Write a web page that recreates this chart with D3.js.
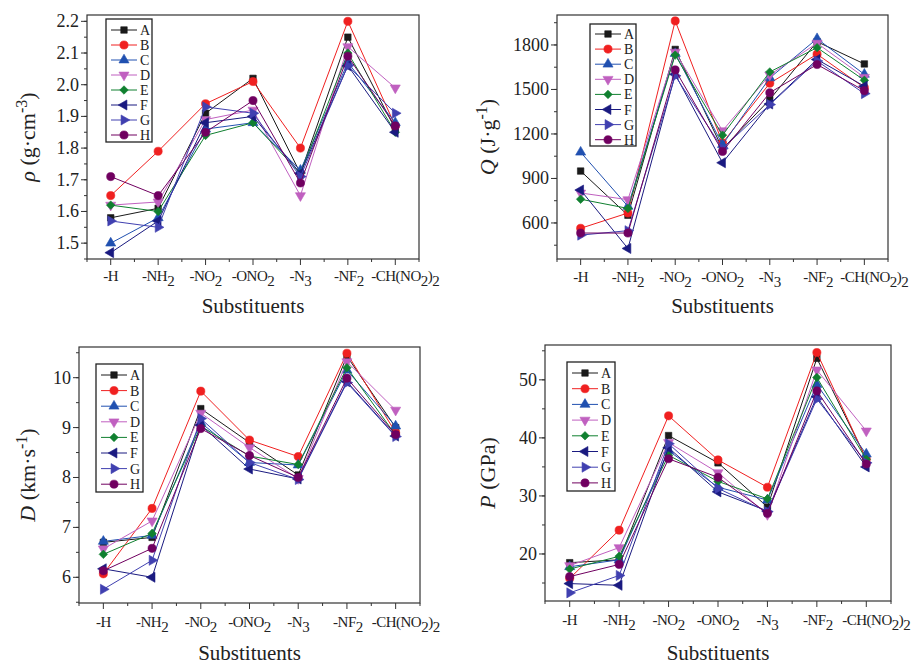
<!DOCTYPE html>
<html>
<head>
<meta charset="utf-8">
<script src="https://cdn.jsdelivr.net/npm/d3@7"></script>
<style>
  body { margin: 0; background: #fff; }
  text { font-family: "Liberation Serif", "DejaVu Serif", serif; fill: #222; }
</style>
</head>
<body>
<div id="chart"></div>
<script>
// categories on the x axis (digits are drawn as subscripts)
const categories = ["-H", "-NH2", "-NO2", "-ONO2", "-N3", "-NF2", "-CH(NO2)2"];
const seriesNames = ["A", "B", "C", "D", "E", "F", "G", "H"];
const seriesColors = ["#1a1a1a", "#f02020", "#2050b0", "#c060c0", "#108030", "#1a1a80", "#4040b0", "#700060"];
const seriesShapes = ["square", "circle", "up", "down", "diamond", "left", "right", "circle"];

// density, g cm-3 (one row per series A..H)
const rhoValues = [
    [1.58, 1.61, 1.91, 2.02, 1.72, 2.15, 1.86],
    [1.65, 1.79, 1.94, 2.01, 1.80, 2.20, 1.87],
    [1.50, 1.58, 1.86, 1.88, 1.73, 2.07, 1.88],
    [1.62, 1.63, 1.89, 1.92, 1.65, 2.12, 1.99],
    [1.62, 1.60, 1.84, 1.88, 1.72, 2.10, 1.85],
    [1.47, 1.57, 1.88, 1.90, 1.72, 2.06, 1.85],
    [1.57, 1.55, 1.93, 1.91, 1.71, 2.06, 1.91],
    [1.71, 1.65, 1.85, 1.95, 1.69, 2.09, 1.87]
];
// heat of detonation, J g-1
const qValues = [
    [950, 652, 1770, 1100, 1432, 1822, 1672],
    [564, 667, 1962, 1140, 1542, 1738, 1512],
    [1077, 712, 1742, 1128, 1578, 1842, 1602],
    [802, 757, 1752, 1222, 1598, 1812, 1582],
    [760, 698, 1732, 1192, 1618, 1782, 1562],
    [822, 428, 1602, 1006, 1402, 1702, 1522],
    [518, 548, 1592, 1102, 1398, 1692, 1472],
    [532, 532, 1632, 1082, 1478, 1668, 1492]
];
// detonation velocity, km s-1
const dValues = [
    [6.70, 6.80, 9.38, 8.70, 8.05, 10.43, 9.00],
    [6.07, 7.38, 9.73, 8.75, 8.42, 10.49, 8.90],
    [6.72, 6.84, 9.10, 8.30, 8.25, 10.15, 9.03],
    [6.57, 7.13, 9.29, 8.60, 7.98, 10.32, 9.35],
    [6.46, 6.88, 9.03, 8.43, 8.26, 10.20, 8.85],
    [6.17, 6.00, 9.05, 8.17, 7.97, 9.92, 8.83],
    [5.76, 6.34, 9.18, 8.30, 7.96, 9.90, 8.82],
    [6.13, 6.58, 8.98, 8.44, 8.00, 9.99, 8.86]
];
// detonation pressure, GPa
const pValues = [
    [18.5, 19.0, 40.4, 35.7, 28.1, 53.7, 36.4],
    [15.8, 24.1, 43.8, 36.2, 31.5, 54.7, 36.3],
    [17.8, 19.0, 37.8, 31.5, 29.3, 49.2, 37.2],
    [18.0, 21.1, 39.2, 34.0, 26.8, 51.7, 41.2],
    [17.4, 19.6, 37.0, 32.5, 29.5, 50.4, 36.3],
    [14.9, 14.6, 38.3, 30.7, 27.4, 47.1, 35.0],
    [13.3, 16.3, 39.0, 31.3, 27.3, 46.7, 35.7],
    [16.1, 18.2, 36.4, 33.2, 27.0, 48.1, 35.5]
];

// tick labels
const rhoTicks = [1.5, 1.6, 1.7, 1.8, 1.9, 2.0, 2.1, 2.2];
const qTicks = [600, 900, 1200, 1500, 1800];
const dTicks = [6, 7, 8, 9, 10];
const pTicks = [20, 30, 40, 50];

const panels = [
    { data: rhoValues, ticks: rhoTicks, step: 0.1, fmt: ".1f", domain: [1.45, 2.22],
      x0: 87, y0: 15, x1: 419, y1: 259, labX: 27,
      ylab: [["ρ", "i"], [" (g·cm", ""], ["-3", "sup"], [")", ""]],
      legend: { x: 106, y: 19, w: 46, h: 123, first: 11, row: 15 }, xlabY: 281, titleY: 313 },
    { data: qValues, ticks: qTicks, step: 300, fmt: "d", domain: [357, 2002],
      x0: 557, y0: 15, x1: 888, y1: 259, labX: 487,
      ylab: [["Q", "i"], [" (J·g", ""], ["-1", "sup"], [")", ""]],
      legend: { x: 590, y: 24, w: 46, h: 122, first: 10, row: 15.1 }, xlabY: 282, titleY: 313 },
    { data: dValues, ticks: dTicks, step: 1, fmt: "d", domain: [5.485, 10.615],
      x0: 79, y0: 347, x1: 420, y1: 603, labX: 27,
      ylab: [["D", "i"], [" (km·s", ""], ["-1", "sup"], [")", ""]],
      legend: { x: 96, y: 364, w: 47, h: 128, first: 11, row: 15.6 }, xlabY: 627, titleY: 660 },
    { data: pValues, ticks: pTicks, step: 10, fmt: "d", domain: [11.9, 56],
      x0: 545, y0: 345, x1: 891, y1: 601, labX: 487,
      ylab: [["P", "i"], [" (GPa)", ""]],
      legend: { x: 567, y: 362, w: 48, h: 129, first: 11, row: 15.7 }, xlabY: 625, titleY: 660 }
];

const svg = d3.select("#chart")
    .append("svg")
    .attr("width", 915)
    .attr("height", 664);

function symbolPath(shape) {
    // returns [d3 symbol type, size, rotation]
    if (shape == "square") return [d3.symbolSquare, 42, 0];
    if (shape == "circle") return [d3.symbolCircle, 52, 0];
    if (shape == "diamond") return [d3.symbolSquare, 36, 45];
    let rot = { up: 0, down: 180, left: -90, right: 90 }[shape];
    return [d3.symbolTriangle, 44, rot];
}

function drawMarker(g, shape, color, x, y) {
    let [type, size, rot] = symbolPath(shape);
    g.append("path")
        .attr("d", d3.symbol().type(type).size(size)())
        .attr("transform", `translate(${x},${y}) rotate(${rot})`)
        .attr("fill", color)
        .attr("stroke", color)
        .attr("stroke-width", 0.6);
}

// writes "-NO2" style text, digits as subscripts
function subText(sel, label) {
    let parts = label.match(/[0-9]+|[^0-9]+/g);
    let shifted = false;
    parts.forEach(function(p) {
        let isSub = /[0-9]/.test(p);
        let t = sel.append("tspan").text(p);
        if (isSub && !shifted) { t.attr("dy", 5); shifted = true; }
        else if (!isSub && shifted) { t.attr("dy", -5); shifted = false; }
    });
}

panels.forEach(function(p) {
    let g = svg.append("g");

    let x = d3.scaleLinear().domain([-0.5, 6.5]).range([p.x0, p.x1]);
    let y = d3.scaleLinear().domain(p.domain).range([p.y1, p.y0]);

    // frame
    g.append("rect")
        .attr("x", p.x0).attr("y", p.y0)
        .attr("width", p.x1 - p.x0).attr("height", p.y1 - p.y0)
        .attr("fill", "none").attr("stroke", "#333").attr("stroke-width", 1.2);

    // y axis ticks
    let fmt = d3.format(p.fmt);
    let minor = d3.range(p.ticks[0] - p.step / 2, p.domain[1], p.step / 2)
        .filter(v => v >= p.domain[0] && v <= p.domain[1]);
    g.selectAll(null).data(minor).enter().append("line")
        .attr("x1", p.x0).attr("x2", p.x0 - 3)
        .attr("y1", d => y(d)).attr("y2", d => y(d))
        .attr("stroke", "#333");
    g.selectAll(null).data(p.ticks).enter().append("line")
        .attr("x1", p.x0).attr("x2", p.x0 - 6)
        .attr("y1", d => y(d)).attr("y2", d => y(d))
        .attr("stroke", "#333");
    g.selectAll(null).data(p.ticks).enter().append("text")
        .attr("x", p.x0 - 8)
        .attr("y", d => y(d) + 6)
        .style("text-anchor", "end")
        .style("font-size", "18px")
        .text(d => fmt(d));

    // x axis ticks
    let xMinor = d3.range(-0.5, 7, 1);
    g.selectAll(null).data(xMinor).enter().append("line")
        .attr("x1", d => x(d)).attr("x2", d => x(d))
        .attr("y1", p.y1).attr("y2", p.y1 + 3)
        .attr("stroke", "#333");
    g.selectAll(null).data(categories).enter().append("line")
        .attr("x1", (d, i) => x(i)).attr("x2", (d, i) => x(i))
        .attr("y1", p.y1).attr("y2", p.y1 + 6)
        .attr("stroke", "#333");
    categories.forEach(function(c, i) {
        // the long last label sits a little right of its tick, as in the original
        let t = g.append("text")
            .attr("x", x(i))
            .attr("dx", i == categories.length - 1 ? 10 : (i == categories.length - 2 ? 1 : 0))
            .attr("y", p.xlabY)
            .style("text-anchor", "middle")
            .style("font-size", "15px")
            .style("letter-spacing", "-0.5px");
        subText(t, c);
    });

    // axis titles
    g.append("text")
        .attr("x", (p.x0 + p.x1) / 2)
        .attr("y", p.titleY)
        .style("text-anchor", "middle")
        .style("font-size", "21px")
        .text("Substituents");

    let yl = g.append("text")
        .attr("transform", `translate(${p.labX},${(p.y0 + p.y1) / 2}) rotate(-90)`)
        .attr("dy", "0.35em")
        .style("text-anchor", "middle")
        .style("font-size", "22px");
    let up = false;
    p.ylab.forEach(function(s) {
        let t = yl.append("tspan").text(s[0]);
        if (s[1] == "i") t.style("font-style", "italic");
        if (s[1] == "sup") { t.attr("dy", -8).style("font-size", "16px"); up = true; }
        else if (up) { t.attr("dy", 8); up = false; }
    });

    // series
    let line = d3.line()
        .x((d, i) => x(i))
        .y(d => y(d));

    p.data.forEach(function(vals, si) {
        let color = seriesColors[si];
        g.append("path")
            .attr("d", line(vals))
            .attr("fill", "none")
            .attr("stroke", color)
            .attr("stroke-width", 1);
        vals.forEach(function(v, i) {
            drawMarker(g, seriesShapes[si], color, x(i), y(v));
        });
    });

    // legend
    let L = p.legend;
    let lg = g.append("g");
    lg.append("rect")
        .attr("x", L.x).attr("y", L.y)
        .attr("width", L.w).attr("height", L.h)
        .attr("fill", "#fff").attr("stroke", "#222").attr("stroke-width", 1.3);
    seriesNames.forEach(function(name, si) {
        let ry = L.y + L.first + si * L.row;
        let color = seriesColors[si];
        lg.append("line")
            .attr("x1", L.x + 5).attr("x2", L.x + 31)
            .attr("y1", ry).attr("y2", ry)
            .attr("stroke", color).attr("stroke-width", 1);
        drawMarker(lg, seriesShapes[si], color, L.x + 18, ry);
        lg.append("text")
            .attr("x", L.x + 34)
            .attr("y", ry + 5)
            .style("font-size", "14px")
            .text(name);
    });
});
</script>
</body>
</html>
